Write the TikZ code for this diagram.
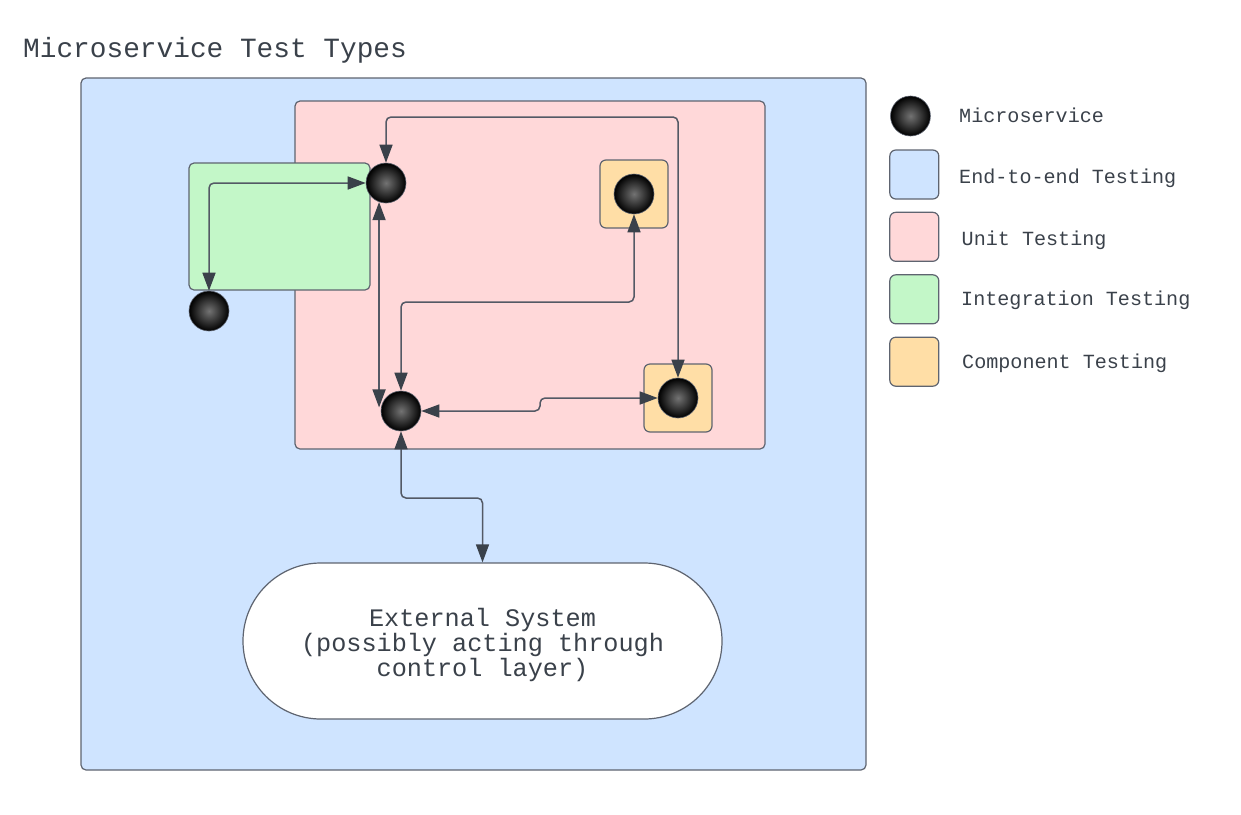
\documentclass[tikz,border=0pt]{standalone}
\usepackage{fontspec}
\setmonofont{Liberation Mono}
\usetikzlibrary{arrows.meta}
\definecolor{e2eblue}{HTML}{CFE4FF}
\definecolor{unitpink}{HTML}{FFD8D9}
\definecolor{integgreen}{HTML}{C3F7C8}
\definecolor{comporange}{HTML}{FFDEA6}
\definecolor{rim}{HTML}{5E6470}
\definecolor{ink}{HTML}{3A414A}
\def\svcnode{\node[circle,minimum size=40pt,inner sep=0pt,draw=rim,line width=0.6pt,shading=radial,inner color=black!55,outer color=black]}

\begin{document}
\begin{tikzpicture}[x=1pt,y=-1pt,
  area/.style={draw=rim,line width=1.2pt,rounded corners=5pt,inner sep=0pt},
  link/.style={draw=rim!70!ink,line width=1.5pt,rounded corners=5pt,
    {Triangle[length=18pt,width=13pt,color=ink]}-{Triangle[length=18pt,width=13pt,color=ink]}},
  lbl/.style={font=\fontsize{20.1}{24}\selectfont\ttfamily,text=ink,inner sep=0pt,anchor=base west}]
\useasboundingbox (0,0) rectangle (1241,814);
\node[anchor=base west,inner sep=0pt,font=\fontsize{27.8}{33}\selectfont\ttfamily,text=ink] (title) at (23,57) {Microservice Test Types};
% test areas
\node[area,fill=e2eblue,minimum width=785pt,minimum height=692pt] (e2e) at (473.5,424) {};
\node[area,fill=unitpink,minimum width=470pt,minimum height=348pt] (unit) at (530,275) {};
\node[area,fill=integgreen,minimum width=181pt,minimum height=127pt] (integ) at (279.5,226.5) {};
\node[area,fill=comporange,minimum size=68pt,rounded corners=6pt] (comp1) at (634,194) {};
\node[area,fill=comporange,minimum size=68pt,rounded corners=6pt] (comp2) at (678,398) {};
\node[draw=rim,line width=1.2pt,fill=white,rounded corners=77.9pt,minimum width=479pt,minimum height=156pt] (ext) at (482.5,641) {};
\node[align=center,font=\fontsize{25.2}{25}\selectfont\ttfamily,text=ink] (exttxt) at (482.5,645)
  {External System\\(possibly acting through\\control layer)};
% microservices
\svcnode (upper) at (386,183) {};
\svcnode (outer) at (209,311) {};
\svcnode (cup) at (634,194) {};
\svcnode (hub) at (401,411) {};
\svcnode (clow) at (678,398) {};
% connectors
\coordinate (ceil) at (0,117);
\coordinate (mid) at (0,302);
\coordinate (jog) at (540,0);
\coordinate (low) at (0,498);
\draw[link] (upper.north) -- (upper.north |- ceil) -- (clow.north |- ceil) -- (clow.north);
\draw[link] (upper.west) -| (outer.north);
\draw[link] (upper.250) -- (upper.250 |- hub.170);
\draw[link] (cup.south) -- (cup.south |- mid) -- (hub.north |- mid) -- (hub.north);
\draw[link] (hub.east) -- (hub.east -| jog) -- (clow.west -| jog) -- (clow.west);
\draw[link] (hub.south) -- (hub.south |- low) -- (ext.north |- low) -- (ext.north);
% legend
\svcnode (keyms) at (910.5,116) {};
\node[area,fill=e2eblue,minimum size=49pt,rounded corners=6pt] (keye2e) at (914.3,174.5) {};
\node[area,fill=unitpink,minimum size=49pt,rounded corners=6pt] (keyunit) at (914.3,236.8) {};
\node[area,fill=integgreen,minimum size=49pt,rounded corners=6pt] (keyinteg) at (914.3,299.3) {};
\node[area,fill=comporange,minimum size=49pt,rounded corners=6pt] (keycomp) at (914.3,361.7) {};
\node[lbl] (keymstxt) at (959,122.5) {Microservice};
\node[lbl] (keye2etxt) at (959,183.3) {End-to-end Testing};
\node[lbl] (keyunittxt) at (961.5,245) {Unit Testing};
\node[lbl] (keyintegtxt) at (961,305) {Integration Testing};
\node[lbl] (keycomptxt) at (962,368.3) {Component Testing};
\end{tikzpicture}
\end{document}
